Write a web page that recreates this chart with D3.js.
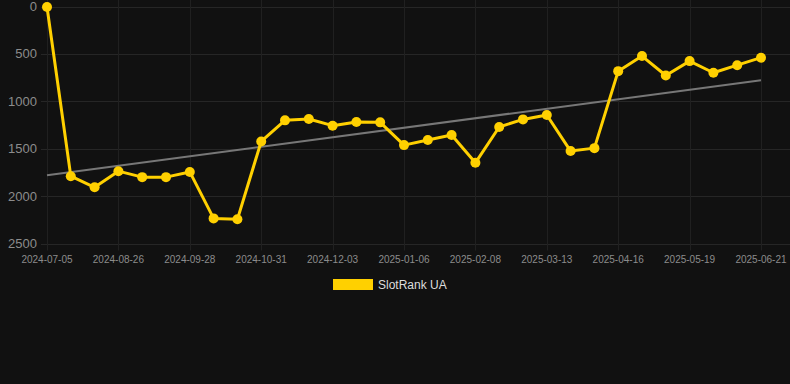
<!DOCTYPE html>
<html>
<head>
<meta charset="utf-8">
<script src="https://cdn.jsdelivr.net/npm/d3@7"></script>
<style>
  html, body { margin: 0; padding: 0; background: #111111; }
  svg { display: block; font-family: "Liberation Sans", Arial, sans-serif; }
</style>
</head>
<body>
<svg id="chart" width="790" height="384"></svg>
<script>
const dates = [
  '2024-07-05', '2024-08-04', '2024-08-15', '2024-08-26', '2024-09-06', '2024-09-17',
  '2024-09-28', '2024-10-09', '2024-10-20', '2024-10-31', '2024-11-11', '2024-11-22',
  '2024-12-03', '2024-12-14', '2024-12-25', '2025-01-06', '2025-01-17', '2025-01-28',
  '2025-02-08', '2025-02-19', '2025-03-02', '2025-03-13', '2025-03-24', '2025-04-04',
  '2025-04-16', '2025-04-27', '2025-05-08', '2025-05-19', '2025-05-30', '2025-06-10',
  '2025-06-21'
];
const rank = [
  5, 1790, 1907, 1737, 1800, 1800,
  1745, 2235, 2245, 1424, 1201, 1187,
  1257, 1218, 1222, 1462, 1409, 1356,
  1649, 1271, 1191, 1144, 1525, 1494,
  682, 523, 728, 576, 699, 619,
  540
];
const yTicks = [0, 500, 1000, 1500, 2000, 2500];
const seriesName = 'SlotRank UA';

const YELLOW = '#ffd000';
const width = 790;
const margin = { top: 6.5, right: 29, bottom: 141, left: 47 };
const graphBottom = 243.5;

const svg = d3.select('#chart');

const xScale = d3.scalePoint()
  .domain(dates)
  .range([margin.left, width - margin.right]);

const yScale = d3.scaleLinear()
  .domain([0, 2500])
  .range([margin.top, graphBottom]);

const labelDates = dates.filter((_d, i) => i % 3 === 0);

// grid
svg.append('g')
  .attr('class', 'y-grid')
  .selectAll('line')
  .data(yTicks)
  .enter()
  .append('line')
  .attr('x1', margin.left - 6)
  .attr('x2', width)
  .attr('y1', d => Math.round(yScale(d)) + 0.5)
  .attr('y2', d => Math.round(yScale(d)) + 0.5)
  .attr('stroke', '#262626')
  .attr('stroke-width', 1);

svg.append('g')
  .attr('class', 'x-grid')
  .selectAll('line')
  .data(labelDates)
  .enter()
  .append('line')
  .attr('x1', d => Math.round(xScale(d)) + 0.5)
  .attr('x2', d => Math.round(xScale(d)) + 0.5)
  .attr('y1', 0)
  .attr('y2', graphBottom + 7)
  .attr('stroke', '#202020')
  .attr('stroke-width', 1);

// y labels
svg.append('g')
  .attr('class', 'y-axis')
  .selectAll('text')
  .data(yTicks)
  .enter()
  .append('text')
  .attr('x', 37)
  .attr('y', d => yScale(d))
  .attr('dy', '0.35em')
  .attr('text-anchor', 'end')
  .attr('fill', '#8c8c8c')
  .attr('font-size', '13px')
  .text(d => d);

// x labels
svg.append('g')
  .attr('class', 'x-axis')
  .selectAll('text')
  .data(labelDates)
  .enter()
  .append('text')
  .attr('x', d => xScale(d))
  .attr('y', 263)
  .attr('text-anchor', 'middle')
  .attr('fill', '#8c8c8c')
  .attr('font-size', '10px')
  .text(d => d);

// trend line (least squares over the series)
const n = rank.length;
const meanX = d3.mean(rank, (_d, i) => i);
const meanY = d3.mean(rank);
const slope = d3.sum(rank, (d, i) => (i - meanX) * (d - meanY)) / d3.sum(rank, (_d, i) => (i - meanX) ** 2);
const intercept = meanY - slope * meanX;

svg.append('line')
  .attr('class', 'trend')
  .attr('x1', xScale(dates[0]))
  .attr('y1', yScale(intercept))
  .attr('x2', xScale(dates[n - 1]))
  .attr('y2', yScale(intercept + slope * (n - 1)))
  .attr('stroke', '#777777')
  .attr('stroke-width', 2);

// series line
const line = d3.line()
  .x((_d, i) => xScale(dates[i]))
  .y(d => yScale(d));

svg.append('path')
  .datum(rank)
  .attr('fill', 'none')
  .attr('stroke', YELLOW)
  .attr('stroke-width', 3)
  .attr('stroke-linejoin', 'round')
  .attr('d', line);

svg.selectAll('.dot')
  .data(rank)
  .enter()
  .append('circle')
  .attr('class', 'dot')
  .attr('cx', (_d, i) => xScale(dates[i]))
  .attr('cy', d => yScale(d))
  .attr('r', 5)
  .attr('fill', YELLOW);

// legend
const legend = svg.append('g')
  .attr('class', 'legend')
  .attr('transform', 'translate(333, 279)');

legend.append('rect')
  .attr('width', 40)
  .attr('height', 11)
  .attr('fill', YELLOW);

legend.append('text')
  .attr('x', 45)
  .attr('y', 10)
  .attr('fill', '#dddddd')
  .attr('font-size', '12px')
  .text(seriesName);
</script>
</body>
</html>
